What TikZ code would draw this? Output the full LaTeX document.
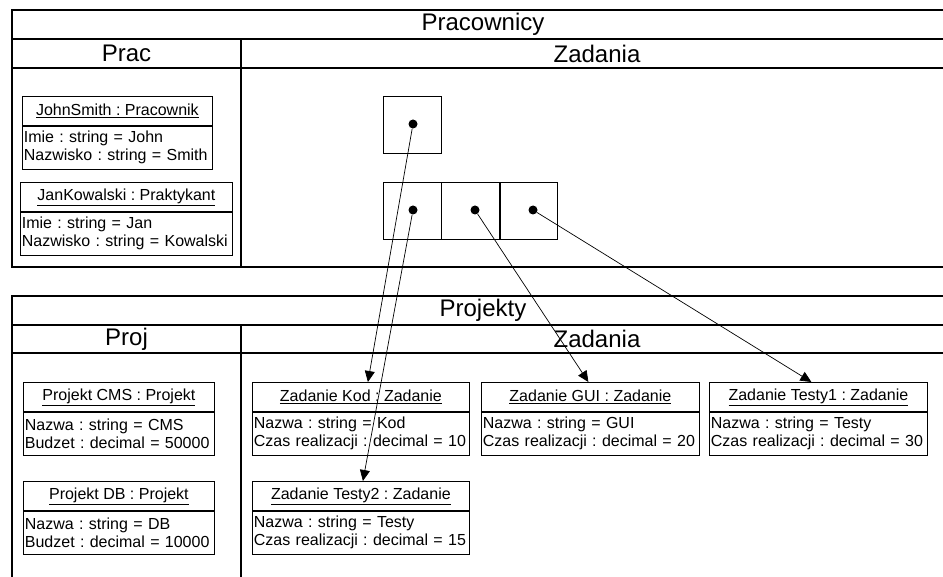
\documentclass[tikz,border=0pt]{standalone}
\usepackage{fontspec}
\setmainfont{Liberation Sans}
\usetikzlibrary{arrows.meta,calc}
\frenchspacing
\begin{document}
\begin{tikzpicture}[x=1pt,y=-1pt,
  frame/.style={line width=1.2pt},
  ttl/.style={font=\fontsize{24}{28}\selectfont, inner sep=0pt},
  ohead/.style={draw, line width=0.8pt, inner sep=0pt, minimum height=29pt, font=\fontsize{16}{18}\selectfont, anchor=north west},
  obody/.style={draw, line width=0.8pt, inner xsep=1.5pt, inner ysep=0pt, minimum height=43pt, align=left, font=\fontsize{16}{18}\selectfont, anchor=north west},
  cell/.style={draw, line width=0.8pt, minimum width=57.5pt, minimum height=57pt, inner sep=0pt, anchor=north west},
  dot/.style={circle, fill, inner sep=0pt, minimum size=9pt},
  arr/.style={line width=0.7pt, -{Triangle[length=11pt,width=10pt]}}]
\useasboundingbox (0,0) rectangle (943,577);
\clip (0,0) rectangle (943,577);
% ---------- top frame ----------
\draw[frame] (12,10) rectangle (954,267);
\draw[frame] (12,39) -- (954,39);
\draw[frame] (12,68) -- (954,68);
\draw[frame] (241,39) -- (241,267);
\node[ttl] (tprac) at (483,24.5) {Pracownicy};
\node[ttl] (tpr) at (126.5,53.5) {Prac};
\node[ttl] (tzad1) at (597,53.5) {Zadania};
% ---------- bottom frame ----------
\draw[frame] (12,600) -- (12,296) -- (954,296);
\draw[frame] (12,325) -- (954,325);
\draw[frame] (12,353) -- (954,353);
\draw[frame] (241,325) -- (241,600);
\node[ttl] (tproj) at (483,310.5) {Projekty};
\node[ttl] (tpj) at (126.5,339) {Proj};
\node[ttl] (tzad2) at (597,339) {Zadania};
% ---------- employees ----------
\node[ohead, minimum width=190pt] (js) at (22,96) {\underline{JohnSmith : Pracownik}};
\node[obody, text width=187pt] (jsb) at (js.south west) {Imie : string = John\\Nazwisko : string = Smith};
\node[ohead, minimum width=212pt] (jk) at (20,182) {\underline{JanKowalski : Praktykant}};
\node[obody, text width=209pt] (jkb) at (jk.south west) {Imie : string = Jan\\Nazwisko : string = Kowalski};
% ---------- task reference cells ----------
\node[cell] (c0) at (383,96) {};
\node[cell] (c1) at (383,182) {};
\node[cell] (c2) at (c1.north east) {};
\node[cell] (c3) at (c2.north east) {};
\node[dot] (d0) at (413,124) {};
\node[dot] (d1) at (413,210) {};
\node[dot] (d2) at (475,210) {};
\node[dot] (d3) at (533,210) {};
% ---------- projects ----------
\node[ohead, minimum width=191pt] (cms) at (23,382) {\underline{Projekt CMS : Projekt}};
\node[obody, text width=188pt] (cmsb) at (cms.south west) {Nazwa : string = CMS\\Budzet : decimal = 50000};
\node[ohead, minimum width=191pt] (db) at (23,481) {\underline{Projekt DB : Projekt}};
\node[obody, text width=188pt] (dbb) at (db.south west) {Nazwa : string = DB\\Budzet : decimal = 10000};
% ---------- tasks ----------
\node[ohead, minimum width=217pt] (kod) at (252,382) {\underline{Zadanie Kod : Zadanie}};
\node[obody, text width=214pt] (kodb) at (kod.south west) {Nazwa : string = Kod\\Czas realizacji : decimal = 10};
\node[ohead, minimum width=217pt] (t2) at (252,481) {\underline{Zadanie Testy2 : Zadanie}};
\node[obody, text width=214pt] (t2b) at (t2.south west) {Nazwa : string = Testy\\Czas realizacji : decimal = 15};
\node[ohead, minimum width=218pt] (gui) at (481,382) {\underline{Zadanie GUI : Zadanie}};
\node[obody, text width=215pt] (guib) at (gui.south west) {Nazwa : string = GUI\\Czas realizacji : decimal = 20};
\node[ohead, minimum width=218pt] (t1) at (709,382) {\underline{Zadanie Testy1 : Zadanie}};
\node[obody, text width=215pt] (t1b) at (t1.south west) {Nazwa : string = Testy\\Czas realizacji : decimal = 30};
% ---------- references ----------
\draw[arr] (d0) -- ([xshift=7pt]kod.north);
\draw[arr] (d1) -- ([xshift=2pt]t2.north);
\draw[arr] (d2) -- ([xshift=-2pt]gui.north);
\draw[arr] (d3) -- ([xshift=-7pt]t1.north);
\end{tikzpicture}
\end{document}
